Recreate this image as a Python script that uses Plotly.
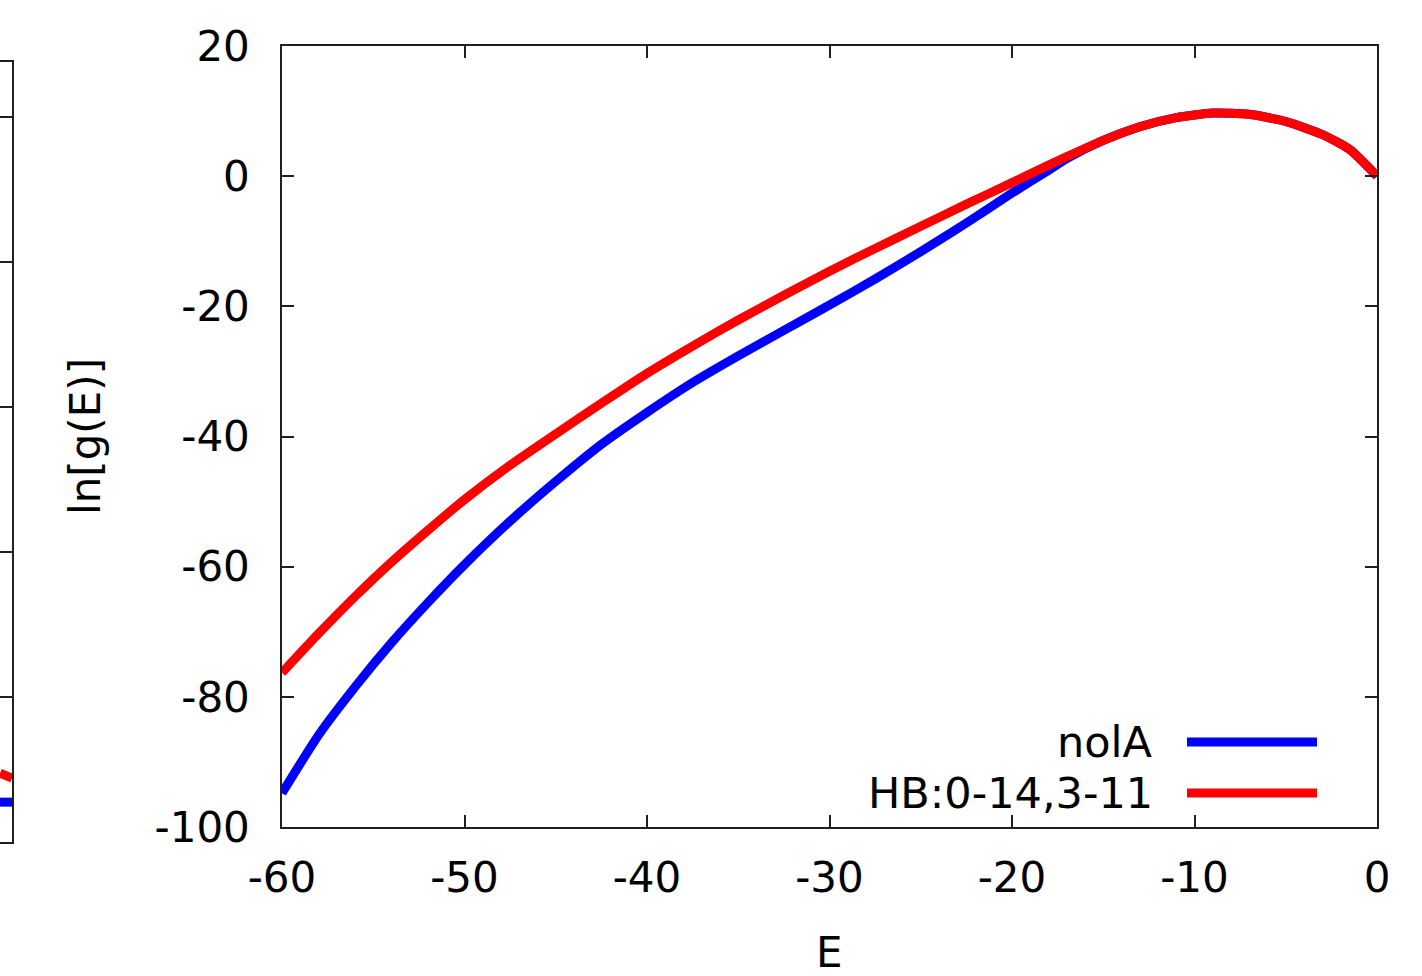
import plotly.graph_objects as go

# ---------------- data ----------------
E = [-60, -58, -56, -54, -52, -50, -47.5, -45, -42.5, -40, -37.5, -35, -32.5, -30,
     -27.5, -25, -22.5, -20, -18, -17, -15, -13, -11, -9, -7, -5, -3, -1.5, 0]

hb = [-76.3, -70.3, -64.6, -59.3, -54.4, -49.7, -44.4, -39.6, -34.9, -30.3, -26.1, -22.1,
      -18.3, -14.6, -11.1, -7.7, -4.3, -1.0, 1.7, 3.0, 5.5, 7.6, 9.0, 9.7, 9.5, 8.4, 6.4, 4.1, 0.0]

nola = [-94.8, -85.9, -78.5, -71.7, -65.5, -59.7, -53.0, -46.9, -41.2, -36.3, -31.7, -27.6,
        -23.7, -19.8, -15.8, -11.6, -7.2, -2.6, 0.9, 2.7, 5.5, 7.6, 9.0, 9.7, 9.5, 8.4, 6.4, 4.1, 0.0]

series_names = ["nolA", "HB:0-14,3-11"]
series_colors = ["#0000ff", "#ff0000"]

x_ticks = [-60, -50, -40, -30, -20, -10, 0]
y_ticks = [20, 0, -20, -40, -60, -80, -100]

# cropped neighbouring panel (only its right edge is visible)
left_E = [-1.0, 0.0]
left_hb = [-90.5, -91.2]
left_nola = [-94.5, -94.5]

# ---------------- figure ----------------
W, H = 1422, 976
FONT = "DejaVu Sans"
FS = 42
LW = 9

def px_x(p):
    return p / W

def px_y(p):
    return (H - p) / H

fig = go.Figure()

# main panel
fig.add_trace(go.Scatter(x=E, y=nola, mode="lines", name=series_names[0],
                         line=dict(color=series_colors[0], width=LW, shape="spline", smoothing=0.6),
                         xaxis="x", yaxis="y", showlegend=False))
fig.add_trace(go.Scatter(x=E, y=hb, mode="lines", name=series_names[1],
                         line=dict(color=series_colors[1], width=LW, shape="spline", smoothing=0.6),
                         xaxis="x", yaxis="y", showlegend=False))

# cropped left panel
fig.add_trace(go.Scatter(x=left_E, y=left_nola, mode="lines",
                         line=dict(color=series_colors[0], width=LW),
                         xaxis="x2", yaxis="y2", showlegend=False, hoverinfo="skip"))
fig.add_trace(go.Scatter(x=left_E, y=left_hb, mode="lines",
                         line=dict(color=series_colors[1], width=LW),
                         xaxis="x2", yaxis="y2", showlegend=False, hoverinfo="skip"))

axis_common = dict(showline=True, linecolor="#202020", linewidth=1.5,
                   ticks="inside", ticklen=12, tickwidth=1.5, tickcolor="#202020",
                   showgrid=False, zeroline=False, automargin=False,
                   tickfont=dict(family=FONT, size=FS, color="black"))

fig.update_layout(
    width=W, height=H,
    margin=dict(l=0, r=0, t=0, b=0, autoexpand=False),
    paper_bgcolor="white", plot_bgcolor="white",
    xaxis=dict(domain=[px_x(282), px_x(1377)], range=[-60, 0],
               tickvals=x_ticks, ticktext=[str(v) for v in x_ticks],
               mirror="ticks", ticklabelstandoff=13, anchor="y", **axis_common),
    yaxis=dict(domain=[px_y(827), px_y(46)], range=[-100, 20],
               tickvals=y_ticks, ticktext=[str(v) for v in y_ticks],
               mirror="ticks", ticklabelstandoff=22, anchor="x", **axis_common),
    xaxis2=dict(domain=[0, px_x(12)], range=[-1.0, 0.0], anchor="y2",
                showline=True, linecolor="#202020", linewidth=1.5, mirror=True,
                ticks="", showticklabels=False, showgrid=False, zeroline=False,
                automargin=False),
    yaxis2=dict(domain=[px_y(842), px_y(62)], range=[-100, 7.6], anchor="x2",
                side="right", showline=True, linecolor="#202020", linewidth=1.5,
                ticks="inside", ticklen=12, tickwidth=1.5, tickcolor="#202020",
                tickvals=[0, -20, -40, -60, -80, -100],
                showticklabels=False, showgrid=False, zeroline=False,
                automargin=False),
    showlegend=False,
)

# axis titles
fig.add_annotation(text="ln[g(E)]", x=px_x(85), y=px_y(437), xref="paper", yref="paper",
                   textangle=-90, showarrow=False, xanchor="center", yanchor="middle",
                   font=dict(family=FONT, size=FS, color="black"))
fig.add_annotation(text="E", x=px_x(829), y=px_y(952), xref="paper", yref="paper",
                   showarrow=False, xanchor="center", yanchor="middle",
                   font=dict(family=FONT, size=FS, color="black"))

# gnuplot-style key: text on the left, sample line on the right
key_rows = [742, 793]
for name, color, row in zip(series_names, series_colors, key_rows):
    fig.add_annotation(text=name, x=px_x(1155), y=px_y(row), xref="paper", yref="paper",
                       showarrow=False, xanchor="right", yanchor="middle",
                       font=dict(family=FONT, size=FS + 1, color="black"))
    fig.add_shape(type="line", xref="paper", yref="paper",
                  x0=px_x(1187), x1=px_x(1317), y0=px_y(row), y1=px_y(row),
                  line=dict(color=color, width=LW))

fig.write_html("out.html")
